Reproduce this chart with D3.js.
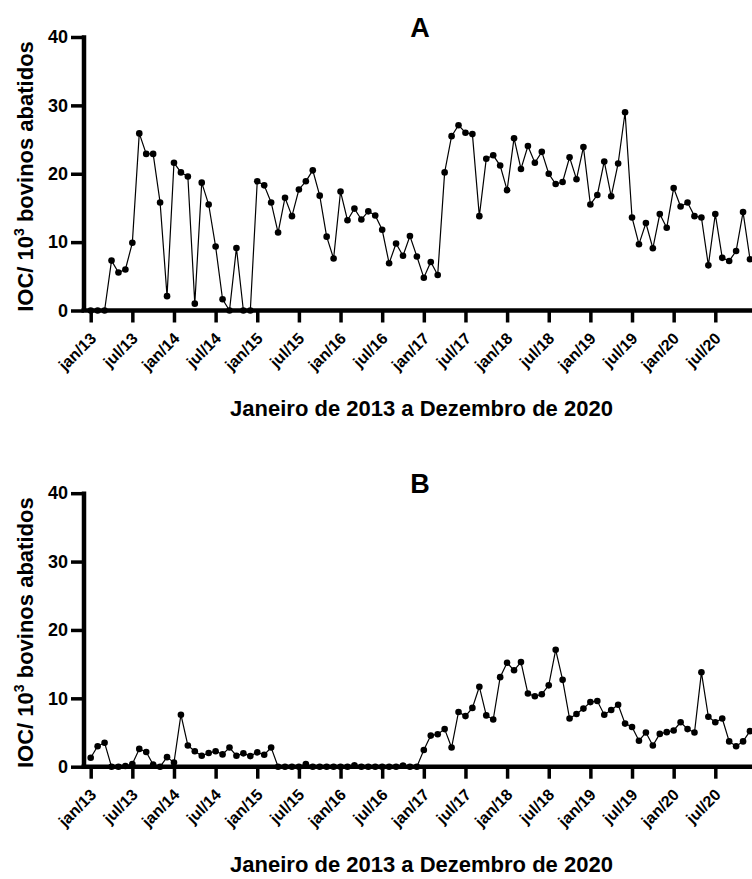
<!DOCTYPE html>
<html>
<head>
<meta charset="utf-8">
<script src="https://cdn.jsdelivr.net/npm/d3@7"></script>
<style>
  html, body { margin: 0; padding: 0; background: #fff; }
  svg { display: block; }
  text { font-family: "Liberation Sans", Arial, sans-serif; font-weight: bold; fill: #000; }
</style>
</head>
<body>
<svg id="chart" width="752" height="879"></svg>
<script>
// Monthly index of bovine occurrences, Jan 2013 – Dec 2020 (96 months)
const seriesA = [
  0, 0, 0, 7.3, 5.55, 6.0, 9.9, 25.9, 22.9, 22.9, 15.8, 2.1,
  21.6, 20.2, 19.6, 1.0, 18.7, 15.5, 9.35, 1.65, 0, 9.15, 0, 0,
  18.9, 18.3, 15.8, 11.4, 16.5, 13.8, 17.7, 18.9, 20.5, 16.8, 10.8, 7.6,
  17.4, 13.2, 14.9, 13.3, 14.5, 13.9, 11.8, 6.9, 9.8, 8.0, 10.9, 7.9,
  4.8, 7.1, 5.2, 20.2, 25.5, 27.1, 26.0, 25.8, 13.8, 22.2, 22.7, 21.2,
  17.6, 25.2, 20.7, 24.05, 21.6, 23.2, 20.0, 18.5, 18.8, 22.4, 19.2, 23.9,
  15.5, 16.9, 21.8, 16.7, 21.5, 29.0, 13.6, 9.7, 12.8, 9.1, 14.1, 12.1,
  17.9, 15.2, 15.8, 13.8, 13.6, 6.6, 14.1, 7.7, 7.25, 8.7, 14.4, 7.5
];
const seriesB = [
  1.3, 3.0, 3.5, 0, 0, 0.1, 0.4, 2.6, 2.15, 0.3, 0, 1.4,
  0.6, 7.6, 3.1, 2.25, 1.6, 2.0, 2.25, 1.8, 2.8, 1.6, 1.95, 1.55,
  2.1, 1.75, 2.8, 0, 0, 0, 0, 0.4, 0, 0, 0, 0,
  0, 0, 0.2, 0, 0, 0, 0, 0, 0, 0.15, 0, 0,
  2.45, 4.55, 4.75, 5.5, 2.8, 8.0, 7.4, 8.6, 11.7, 7.5, 6.9, 13.1,
  15.2, 14.1, 15.3, 10.7, 10.3, 10.6, 11.9, 17.1, 12.7, 7.05, 7.7, 8.5,
  9.45, 9.6, 7.6, 8.3, 9.05, 6.3, 5.8, 3.8, 5.0, 3.1, 4.8, 5.05,
  5.3, 6.5, 5.5, 5.0, 13.8, 7.3, 6.5, 7.05, 3.7, 3.0, 3.7, 5.2
];
const tickLabels = ['jan/13','jul/13','jan/14','jul/14','jan/15','jul/15','jan/16','jul/16',
                    'jan/17','jul/17','jan/18','jul/18','jan/19','jul/19','jan/20','jul/20'];
const tickMonths = tickLabels.map((_, i) => i * 6);
const yTicks = [0, 10, 20, 30, 40];
const panelLetters = ['A', 'B'];
const xTitle = 'Janeiro de 2013 a Dezembro de 2020';

const svg = d3.select('#chart');

const x = d3.scaleLinear().domain([0, 95]).range([90.7, 750]);
const axisX = 84;            // y-axis position
const axisStart = x(-1.33);  // x-axis line starts at the y axis
const axisEnd = x(98);

function drawPanel(values, zeroY, letter) {
  const y = d3.scaleLinear().domain([0, 40]).range([zeroY, zeroY - 273.5]);
  const g = svg.append('g');

  // series line and markers
  const line = d3.line().x((d, i) => x(i)).y(d => y(d));
  g.append('path')
    .datum(values)
    .attr('d', line)
    .attr('fill', 'none')
    .attr('stroke', '#000')
    .attr('stroke-width', 1.2);
  g.selectAll('circle')
    .data(values)
    .join('circle')
    .attr('cx', (d, i) => x(i))
    .attr('cy', d => y(d))
    .attr('r', 3.3)
    .attr('fill', '#000');

  // x axis
  const gx = g.append('g').attr('transform', `translate(0,${zeroY})`)
    .call(d3.axisBottom(x).tickValues(tickMonths)
      .tickFormat((d, i) => tickLabels[i]).tickSize(12).tickSizeOuter(0));
  gx.select('.domain').remove();
  gx.append('line')
    .attr('x1', axisStart).attr('x2', axisEnd)
    .attr('stroke', '#000').attr('stroke-width', 4.5);
  gx.selectAll('.tick line').attr('stroke', '#000').attr('stroke-width', 3.5);
  gx.selectAll('.tick text')
    .attr('x', 0).attr('y', 0).attr('dy', 0)
    .attr('text-anchor', 'end')
    .attr('transform', 'translate(6,29) rotate(-45)')
    .style('font-size', '16px')
    .style('font-family', '"Liberation Sans", Arial, sans-serif')
    .style('font-weight', 'bold');

  // y axis
  const gy = g.append('g').attr('transform', `translate(${axisX},0)`)
    .call(d3.axisLeft(y).tickValues(yTicks).tickSize(13).tickPadding(3).tickSizeOuter(0));
  gy.select('.domain').remove();
  gy.append('line')
    .attr('y1', y(40) - 1.75).attr('y2', zeroY)
    .attr('stroke', '#000').attr('stroke-width', 4.5);
  gy.selectAll('.tick line').attr('stroke', '#000').attr('stroke-width', 3.5);
  gy.selectAll('.tick text')
    .style('font-size', '18px')
    .style('font-family', '"Liberation Sans", Arial, sans-serif')
    .style('font-weight', 'bold');

  // y-axis title with superscript
  const yt = g.append('text')
    .attr('transform', `translate(33,${zeroY - 134}) rotate(-90)`)
    .attr('text-anchor', 'middle')
    .style('font-size', '22px');
  yt.append('tspan').text('IOC/ 10');
  yt.append('tspan').attr('dy', -9).style('font-size', '14px').text('3');
  yt.append('tspan').attr('dy', 9).text(' bovinos abatidos');

  // x-axis title
  g.append('text')
    .attr('x', 421.5).attr('y', zeroY + 105.5)
    .attr('text-anchor', 'middle')
    .style('font-size', '22px')
    .text(xTitle);

  // panel letter
  g.append('text')
    .attr('x', 420).attr('y', zeroY - 274)
    .attr('text-anchor', 'middle')
    .style('font-size', '27px')
    .text(letter);
}

drawPanel(seriesA, 310.5, panelLetters[0]);
drawPanel(seriesB, 766.7, panelLetters[1]);
</script>
</body>
</html>
